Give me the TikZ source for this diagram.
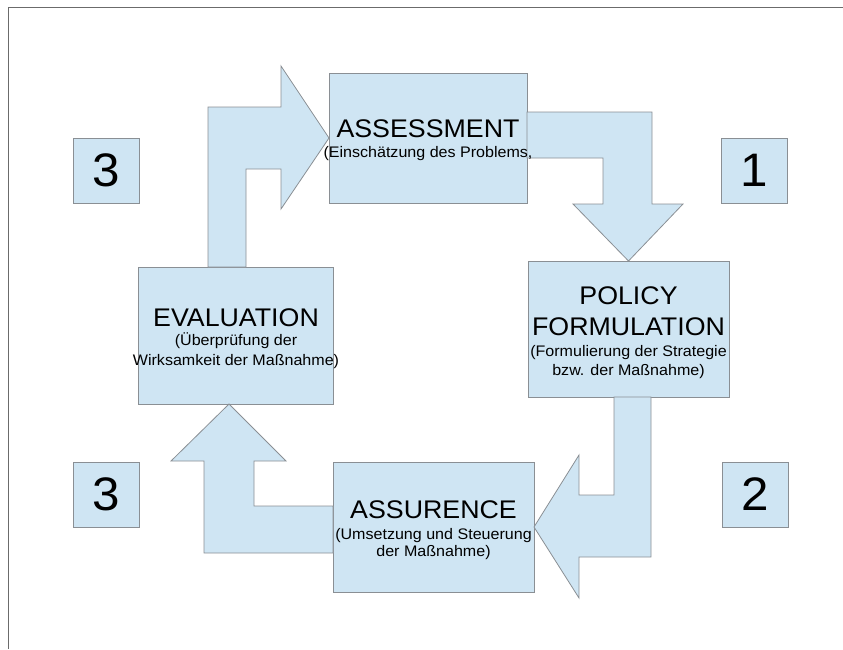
\documentclass[tikz,border=0pt]{standalone}
\usepackage{fontspec}
\setmainfont[FakeStretch=1.05]{Liberation Sans}
\newlength{\du}
\setlength{\du}{1pt}

\begin{document}
\begin{tikzpicture}[
  stepbox/.style={rectangle,fill=diafillcolor,draw=dialinecolor,line width=0.8\du,inner sep=0pt,outer sep=0pt},
  numbox/.style={stepbox,minimum width=66\du,minimum height=65\du,font=\fontsize{47}{47}\selectfont},
  blockarrow/.style={fill=diafillcolor,draw=dialinecolor,line width=0.8\du,line join=miter},
  titletext/.style={anchor=base,inner sep=0pt,outer sep=0pt,font=\fontsize{25.5}{30}\selectfont},
  subtext/.style={anchor=base,inner sep=0pt,outer sep=0pt,font=\fontsize{15.3}{18}\selectfont}]
\pgftransformxscale{1.000000}
\pgftransformyscale{-1.000000}
\definecolor{dialinecolor}{rgb}{0.540000, 0.560000, 0.580000}
\definecolor{diafillcolor}{rgb}{0.812000, 0.898000, 0.953000}
\definecolor{framecolor}{rgb}{0.420000, 0.420000, 0.420000}
\useasboundingbox (0\du,0\du) rectangle (843\du,649\du);
% page frame
\draw[framecolor,line width=1.5\du] (843\du,7.5\du)--(8.5\du,7.5\du)--(8.5\du,649\du);
% the four stages
\node[stepbox,minimum width=198\du,minimum height=130\du] (assess) at (428\du,138\du) {};
\node[stepbox,minimum width=201\du,minimum height=136\du] (policy) at (628.5\du,329\du) {};
\node[stepbox,minimum width=201\du,minimum height=130\du] (assur) at (433.5\du,527\du) {};
\node[stepbox,minimum width=195\du,minimum height=137\du] (evalu) at (235.5\du,335.5\du) {};
% numbers
\node[numbox] (numA) at (106\du,170.5\du) {3};
\node[numbox] (numB) at (754.5\du,170.5\du) {1};
\node[numbox] (numC) at (755\du,494.5\du) {2};
\node[numbox] (numD) at (106.5\du,494.5\du) {3};
% block arrows
\draw[blockarrow] (208\du,0 |- evalu.north)--(208\du,107\du)--(281\du,107\du)--(281\du,66\du)
  --(assess.west)--(281\du,209\du)--(281\du,169\du)--(246\du,169\du)--(246\du,0 |- evalu.north)--cycle;
\draw[blockarrow] (assess.east |- 0,112\du)--(652\du,112\du)--(652\du,204\du)--(683\du,204\du)
  --(policy.north)--(573\du,204\du)--(603\du,204\du)--(603\du,158\du)--(assess.east |- 0,158\du)--cycle;
\draw[blockarrow] (614\du,0 |- policy.south)--(651\du,0 |- policy.south)--(651\du,557\du)--(579\du,557\du)--(579\du,598\du)
  --(assur.east)--(579\du,455\du)--(579\du,495\du)--(614\du,495\du)--cycle;
\draw[blockarrow] (assur.west |- 0,553\du)--(204\du,553\du)--(204\du,461\du)--(171\du,461\du)
  --(229\du,0 |- evalu.south)--(286\du,461\du)--(254\du,461\du)--(254\du,506\du)--(assur.west |- 0,506\du)--cycle;
% texts
\node[titletext] (assessT) at (428\du,137\du) {ASSESSMENT};
\node[subtext] (assessS) at (428\du,157\du) {(Einschätzung des Problems,};
\node[titletext] (policyT) at (628.5\du,304\du) {POLICY};
\node[titletext] (policyU) at (628.5\du,335\du) {FORMULATION};
\node[subtext] (policyS) at (628.5\du,356\du) {(Formulierung der Strategie};
\node[subtext] (policyR) at (628.5\du,375\du) {bzw. der Maßnahme)};
\node[titletext] (evaluT) at (236\du,326\du) {EVALUATION};
\node[subtext] (evaluS) at (236\du,345\du) {(Überprüfung der};
\node[subtext] (evaluR) at (236\du,365\du) {Wirksamkeit der Maßnahme)};
\node[titletext] (assurT) at (433.5\du,518\du) {ASSURENCE};
\node[subtext] (assurS) at (433.5\du,539\du) {(Umsetzung und Steuerung};
\node[subtext] (assurR) at (433.5\du,556\du) {der Maßnahme)};
\end{tikzpicture}
\end{document}
